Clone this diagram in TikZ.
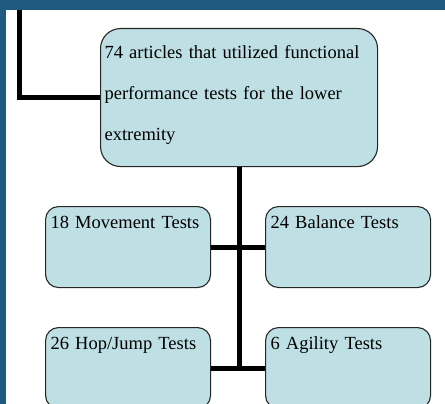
\documentclass[tikz,border=0pt]{standalone}
\usepackage{fontspec}
\setmainfont{Liberation Serif}
\usepackage{tikz}
\usetikzlibrary{calc}
\definecolor{rahmen}{HTML}{1F5A80}
\definecolor{kastenf}{HTML}{BEDFE3}
\definecolor{kastenr}{HTML}{262626}
\tikzset{
  feld/.style={anchor=north west,fill=kastenf,draw=kastenr,line width=1.1pt,rounded corners=13pt,
    inner xsep=5pt,inner ysep=0pt,text width=155pt,align=left,text height=21.5pt,text depth=59.5pt,
    font=\fontsize{18.5}{22}\selectfont},
  feldg/.style={feld,rounded corners=20pt,inner xsep=4pt,text width=269pt,text height=30pt,text depth=108pt,
    font=\fontsize{18.5}{41}\selectfont},
  strich/.style={black,line width=5pt},
}

\begin{document}
\begin{tikzpicture}[x=1pt,y=-1pt]
  \useasboundingbox (0,0) rectangle (445,404);
  \clip (0,0) rectangle (445,404);
  \fill[rahmen] (0,0) rectangle (445,404);
  \fill[white] (6,10) rectangle (445,404);
  \coordinate (ast) at (19,10);
  \node[feldg] (top) at (100,28) {74 articles that utilized functional\\performance tests for the lower\\extremity};
  \node[feld] (mov) at (45,206) {18 Movement Tests};
  \node[feld] (bal) at (265,206) {24 Balance Tests};
  \node[feld] (hop) at (45,327) {26 Hop/Jump Tests};
  \node[feld] (agi) at (265,327) {6 Agility Tests};
  \draw[strich] (ast) |- (top.west);
  \draw[strich] (top.south) -- (top.south |- hop.east);
  \draw[strich] (mov.east) -- (bal.west);
  \draw[strich] (hop.east) -- (agi.west);
\end{tikzpicture}
\end{document}
